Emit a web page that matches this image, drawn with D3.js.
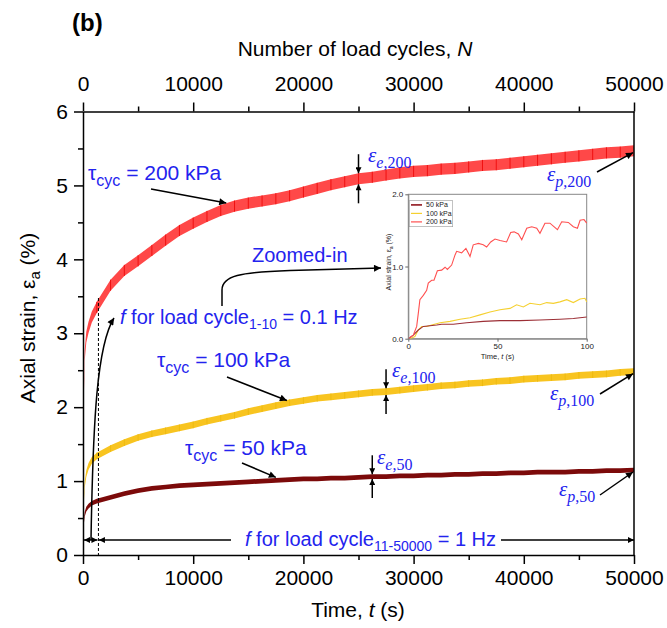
<!DOCTYPE html>
<html>
<head>
<meta charset="utf-8">
<script src="https://d3js.org/d3.v7.min.js"></script>
<style>
  body { margin: 0; background: #ffffff; }
  svg { display: block; font-family: 'Liberation Sans', Arial, sans-serif; }
</style>
</head>
<body>
<div id="chart"></div>
<script>
// time samples (s) shared by the three long-term curves
var time = [0, 25, 75, 150, 300, 500, 800, 1250, 2500, 3750, 5000, 6250, 7500, 8750,
  10000, 11250, 12500, 13750, 15000, 16250, 17500, 18750, 20000, 21250, 22500, 23750,
  25000, 26250, 27500, 28750, 30000, 31250, 32500, 33750, 35000, 36250, 37500, 38750,
  40000, 41250, 42500, 43750, 45000, 46250, 47500, 48750, 50000];

// mean axial strain (%) for each cyclic stress
var strain200 = [0, 1.2, 2.2, 2.7, 2.95, 3.08, 3.22, 3.35, 3.65, 3.85, 3.98, 4.12, 4.26, 4.39,
  4.49, 4.58, 4.66, 4.72, 4.76, 4.79, 4.82, 4.86, 4.91, 4.96, 5.01, 5.05,
  5.09, 5.11, 5.14, 5.17, 5.19, 5.20, 5.22, 5.23, 5.25, 5.27, 5.28, 5.30,
  5.32, 5.34, 5.36, 5.38, 5.40, 5.42, 5.44, 5.45, 5.47];
var strain100 = [0, 0.4, 0.75, 0.95, 1.1, 1.2, 1.28, 1.34, 1.44, 1.52, 1.59, 1.64, 1.68, 1.72,
  1.76, 1.81, 1.85, 1.89, 1.94, 1.98, 2.02, 2.06, 2.09, 2.12, 2.14, 2.16,
  2.18, 2.20, 2.21, 2.23, 2.25, 2.27, 2.29, 2.30, 2.32, 2.33, 2.35, 2.36,
  2.38, 2.39, 2.40, 2.41, 2.43, 2.44, 2.45, 2.47, 2.48];
var strain50 = [0, 0.3, 0.45, 0.55, 0.62, 0.66, 0.7, 0.73, 0.78, 0.83, 0.87, 0.9, 0.92, 0.94,
  0.95, 0.96, 0.97, 0.98, 0.99, 1.0, 1.01, 1.02, 1.03, 1.03, 1.04, 1.04,
  1.05, 1.06, 1.06, 1.07, 1.07, 1.08, 1.08, 1.09, 1.09, 1.10, 1.10, 1.11,
  1.11, 1.12, 1.12, 1.12, 1.13, 1.13, 1.14, 1.14, 1.15];

// half of the elastic (cyclic) strain band, %
var elastic200 = 0.075;
var elastic100 = 0.045;
var elastic50 = 0.032;

var xTicks = [0, 10000, 20000, 30000, 40000, 50000];
var xMinor = [5000, 15000, 25000, 35000, 45000];
var yTicks = [0, 1, 2, 3, 4, 5, 6];
var yMinor = [0.5, 1.5, 2.5, 3.5, 4.5, 5.5];

// zoomed-in first 100 s
var insetT200 = [0, 2.8, 4.7, 5.6, 6.5, 8.4, 10.3, 11.2, 13.1, 14.4, 16.3, 18.7, 20.6, 21.9, 24.3,
  26.2, 27.1, 29.9, 32.3, 34.6, 36.4, 39.3, 42, 43.9, 46.2, 48.6, 51.4, 55.1, 57.4, 59.3,
  61.7, 63.6, 66.4, 69.2, 72, 73.8, 76.6, 79.4, 81.3, 83.6, 86, 89.7, 92.5, 94.8, 96.3, 98.5, 100];
var insetS200 = [0, 0.05, 0.17, 0.35, 0.54, 0.6, 0.67, 0.77, 0.81, 0.81, 0.94, 0.95, 0.99, 0.96, 1.02,
  1.16, 1.21, 1.19, 1.25, 1.14, 1.30, 1.32, 1.30, 1.27, 1.34, 1.38, 1.36, 1.34, 1.47, 1.48,
  1.45, 1.37, 1.53, 1.55, 1.53, 1.46, 1.60, 1.60, 1.56, 1.51, 1.62, 1.61, 1.55, 1.53, 1.64, 1.65, 1.60];
var insetT100 = [1, 3.7, 5.6, 7.5, 10.3, 13.1, 17.8, 23.4, 29, 34.6, 40.2, 45.8, 51.4, 57, 60.7,
  64.5, 68.2, 73.8, 77.6, 81.3, 85, 88.8, 92.5, 96.3, 99, 100];
var insetS100 = [0, 0.03, 0.12, 0.17, 0.17, 0.19, 0.22, 0.24, 0.27, 0.29, 0.33, 0.37, 0.40, 0.42, 0.47,
  0.44, 0.49, 0.47, 0.50, 0.49, 0.51, 0.54, 0.50, 0.55, 0.56, 0.51];
var insetT50 = [0, 2.8, 5.6, 8.4, 12.1, 15.9, 18.7, 25.2, 32.7, 42, 51.4, 62.6, 73.8, 85, 92.5, 100];
var insetS50 = [0, 0.05, 0.12, 0.17, 0.18, 0.19, 0.2, 0.2, 0.22, 0.24, 0.25, 0.25, 0.26, 0.27, 0.28, 0.3];
var insetLegend = ['50 kPa', '100 kPa', '200 kPa'];

var blue = '#2323ee';
var svg = d3.select('#chart').append('svg').attr('width', 667).attr('height', 628);

var x = d3.scaleLinear().domain([0, 50000]).range([83, 634]);
var y = d3.scaleLinear().domain([0, 6]).range([555, 111.5]);

var defs = svg.append('defs');
defs.append('marker').attr('id', 'ah').attr('viewBox', '0 0 10 10')
  .attr('refX', 10).attr('refY', 5).attr('markerWidth', 9).attr('markerHeight', 7)
  .attr('markerUnits', 'userSpaceOnUse').attr('orient', 'auto-start-reverse')
  .append('path').attr('d', 'M0,0 L10,5 L0,10 z').attr('fill', '#000');
defs.append('marker').attr('id', 'ahs').attr('viewBox', '0 0 10 10')
  .attr('refX', 10).attr('refY', 5).attr('markerWidth', 7).attr('markerHeight', 6)
  .attr('markerUnits', 'userSpaceOnUse').attr('orient', 'auto-start-reverse')
  .append('path').attr('d', 'M0,0 L10,5 L0,10 z').attr('fill', '#000');

// text with sub-scripts
function richText(g, px, py, parts, o) {
  var t = g.append('text').attr('x', px).attr('y', py).attr('fill', o.color || '#000')
    .style('font-size', o.size + 'px');
  if (o.family) t.style('font-family', o.family);
  if (o.anchor) t.attr('text-anchor', o.anchor);
  var shift = 0;
  parts.forEach(function (p) {
    var target = p.sub ? o.subShift : 0;
    var sp = t.append('tspan').text(p.t).attr('dy', target - shift);
    shift = target;
    if (p.sub) sp.style('font-size', o.subSize + 'px');
    if (p.it) sp.style('font-style', 'italic');
  });
  return t;
}

function arrow(g, x1, y1, x2, y2, small, both) {
  var l = g.append('line').attr('x1', x1).attr('y1', y1).attr('x2', x2).attr('y2', y2)
    .attr('stroke', '#000').attr('stroke-width', 1.5)
    .attr('marker-end', small ? 'url(#ahs)' : 'url(#ah)');
  if (both) l.attr('marker-start', small ? 'url(#ahs)' : 'url(#ah)');
  return l;
}

// ---- bands
function band(values, half, fill, tick, tickFrom) {
  var data = time.map(function (t, i) { return { t: t, v: values[i] }; });
  var area = d3.area().x(function (d) { return x(d.t); })
    .y0(function (d) { return y(Math.max(0, d.v - half)); })
    .y1(function (d) { return y(d.v + half); });
  svg.append('path').datum(data).attr('d', area).attr('fill', fill);
  svg.append('g').selectAll('line').data(data.filter(function (d) { return d.t >= tickFrom && d.t < 50000; }))
    .enter().append('line')
    .attr('x1', function (d) { return x(d.t); }).attr('x2', function (d) { return x(d.t); })
    .attr('y1', function (d) { return y(d.v - half); }).attr('y2', function (d) { return y(d.v + half); })
    .attr('stroke', tick).attr('stroke-width', 1);
}
band(strain200, elastic200, '#ff4848', '#f01010', 1250);
band(strain100, elastic100, '#f8c420', '#eebb10', 1250);
band(strain50, elastic50, '#7c0a0a', '#6a0000', 99999);

// ---- axes
function styleAxis(g) {
  g.selectAll('path').attr('stroke', '#000').attr('stroke-width', 1.5);
  g.selectAll('line').attr('stroke', '#000').attr('stroke-width', 1.5);
  g.selectAll('text').style('font-size', '21px').style('font-family', "'Liberation Sans', Arial, sans-serif").attr('fill', '#000');
}
var fmt = d3.format('d');
var gb = svg.append('g').attr('transform', 'translate(0,555)')
  .call(d3.axisBottom(x).tickValues(xTicks).tickSize(9).tickSizeOuter(0).tickPadding(6).tickFormat(fmt));
styleAxis(gb);
var gbm = svg.append('g').attr('transform', 'translate(0,555)')
  .call(d3.axisBottom(x).tickValues(xMinor).tickSize(5).tickFormat(''));
styleAxis(gbm); gbm.select('.domain').remove();

var gt = svg.append('g').attr('transform', 'translate(0,111.5)')
  .call(d3.axisTop(x).tickValues(xTicks).tickSize(9).tickSizeOuter(0).tickPadding(12).tickFormat(fmt));
styleAxis(gt);
var gtm = svg.append('g').attr('transform', 'translate(0,111.5)')
  .call(d3.axisTop(x).tickValues(xMinor).tickSize(5).tickFormat(''));
styleAxis(gtm); gtm.select('.domain').remove();

var gl = svg.append('g').attr('transform', 'translate(83,0)')
  .call(d3.axisLeft(y).tickValues(yTicks).tickSize(9).tickSizeOuter(0).tickPadding(6).tickFormat(fmt));
styleAxis(gl);
var glm = svg.append('g').attr('transform', 'translate(83,0)')
  .call(d3.axisLeft(y).tickValues(yMinor).tickSize(5).tickFormat(''));
styleAxis(glm); glm.select('.domain').remove();

svg.append('line').attr('x1', 634).attr('x2', 634).attr('y1', 111.5).attr('y2', 555)
  .attr('stroke', '#000').attr('stroke-width', 1.5);

// titles
svg.append('text').attr('x', 72).attr('y', 31).text('(b)')
  .style('font-size', '24px').style('font-weight', 'bold');
richText(svg, 355, 56, [{ t: 'Number of load cycles, ' }, { t: 'N', it: true }], { size: 21, anchor: 'middle' });
richText(svg, 358, 617, [{ t: 'Time, ' }, { t: 't', it: true }, { t: ' (s)' }], { size: 21, anchor: 'middle' });
var ylab = richText(svg, 0, 0, [{ t: 'Axial strain, ε' }, { t: 'a', sub: true }, { t: ' (%)' }],
  { size: 21, subSize: 15, subShift: 5, anchor: 'middle' });
ylab.attr('transform', 'translate(35,318) rotate(-90)');

// ---- annotations
var ann = svg.append('g');
var tauOpts = { size: 21, subSize: 16, subShift: 6, color: blue };
richText(ann, 88, 180, [{ t: 'τ' }, { t: 'cyc', sub: true }, { t: ' = 200 kPa' }], tauOpts);
arrow(ann, 151, 189, x(13000), y(4.68) - 6);
richText(ann, 157, 367, [{ t: 'τ' }, { t: 'cyc', sub: true }, { t: ' = 100 kPa' }], tauOpts);
arrow(ann, 227, 377, x(18500), y(2.05) - 3);
richText(ann, 185, 455, [{ t: 'τ' }, { t: 'cyc', sub: true }, { t: ' = 50 kPa' }], tauOpts);
arrow(ann, 242, 463, x(17500), y(1.01) - 3);

var fOpts = { size: 20, subSize: 14, subShift: 5, color: blue };
richText(ann, 120, 324, [{ t: 'f', it: true }, { t: ' for load cycle' }, { t: '1-10', sub: true }, { t: ' = 0.1 Hz' }], fOpts);
richText(ann, 245, 546, [{ t: 'f', it: true }, { t: ' for load cycle' }, { t: '11-50000', sub: true }, { t: ' = 1 Hz' }], fOpts);
richText(ann, 252, 262, [{ t: 'Zoomed-in' }], { size: 20, color: blue });

// zoomed-in curved arrow
ann.append('path').attr('d', 'M222,306 L222,290 C222,276 240,272 290,270.5 L381,268')
  .attr('fill', 'none').attr('stroke', '#000').attr('stroke-width', 1.5).attr('marker-end', 'url(#ah)');
// first-10-cycles arrow
ann.append('path').attr('d', 'M91,540 C93,420 97,345 114,318')
  .attr('fill', 'none').attr('stroke', '#000').attr('stroke-width', 1.5).attr('marker-end', 'url(#ah)');
// dashed boundary at end of cycle 10
ann.append('line').attr('x1', x(1400)).attr('x2', x(1400)).attr('y1', 298).attr('y2', 555)
  .attr('stroke', '#000').attr('stroke-width', 1).attr('stroke-dasharray', '3,2');
arrow(ann, x(0) + 1, 540, x(1400) - 1, 540, true, true);
arrow(ann, 231, 540, x(1400) + 0.5, 540, true);
arrow(ann, 501, 540, x(50000), 540, true);

// elastic strain markers
var epsOpts = { size: 21, subSize: 16, subShift: 6, color: blue, family: "'Liberation Serif', 'DejaVu Serif', serif" };
function elasticMark(vals, half, idx, lx, ly, sub) {
  var px = x(time[idx]), top = y(vals[idx] + half), bot = y(vals[idx] - half);
  arrow(ann, px, top - 19, px, top, true);
  arrow(ann, px, bot + 19, px, bot, true);
  richText(ann, lx, ly, [{ t: 'ε', it: true }, { t: 'e', sub: true, it: true }, { t: ',' + sub, sub: true }], epsOpts);
}
elasticMark(strain200, elastic200, 26, 368, 162, '200');
elasticMark(strain100, elastic100, 28, 392, 377, '100');
elasticMark(strain50, elastic50, 27, 377, 464, '50');

function plasticMark(vals, lx, ly, sub, ax, ay) {
  richText(ann, lx, ly, [{ t: 'ε', it: true }, { t: 'p', sub: true, it: true }, { t: ',' + sub, sub: true }], epsOpts);
  arrow(ann, ax, ay, x(50000) - 1, y(vals[vals.length - 1]) + 2);
}
plasticMark(strain200, 547, 181, '200', 597, 172);
plasticMark(strain100, 550, 400, '100', 600, 394);
plasticMark(strain50, 559, 496, '50', 600, 495);

// ---- inset
var xi = d3.scaleLinear().domain([0, 100]).range([408.3, 586.7]);
var yi = d3.scaleLinear().domain([0, 2]).range([338.7, 194.3]);
var ins = svg.append('g');
ins.append('rect').attr('x', 408.3).attr('y', 194.3).attr('width', 178.4).attr('height', 144.4)
  .attr('fill', '#fff').attr('stroke', '#888').attr('stroke-width', 1);
function insetLine(ts, vs, color) {
  var line = d3.line().x(function (d) { return xi(d[0]); }).y(function (d) { return yi(d[1]); });
  ins.append('path').datum(ts.map(function (t, i) { return [t, vs[i]]; }))
    .attr('d', line).attr('fill', 'none').attr('stroke', color).attr('stroke-width', 1.1);
}
insetLine(insetT100, insetS100, '#f5d030');
insetLine(insetT50, insetS50, '#9c2f36');
insetLine(insetT200, insetS200, '#ff5050');

var gix = ins.append('g').attr('transform', 'translate(0,338.7)')
  .call(d3.axisBottom(xi).tickValues([0, 50, 100]).tickSize(3).tickSizeOuter(0).tickPadding(2));
var giy = ins.append('g').attr('transform', 'translate(408.3,0)')
  .call(d3.axisLeft(yi).tickValues([0, 1, 2]).tickSize(3).tickSizeOuter(0).tickPadding(2));
[gix, giy].forEach(function (g) {
  g.select('.domain').attr('stroke', '#888');
  g.selectAll('line').attr('stroke', '#666');
  g.selectAll('text').style('font-size', '8px').attr('fill', '#222');
});
richText(ins, 497.5, 359, [{ t: 'Time, ' }, { t: 't', it: true }, { t: ' (s)' }], { size: 7.5, anchor: 'middle', color: '#222' });
var iyl = richText(ins, 0, 0, [{ t: 'Axial strain, ε' }, { t: 'a', sub: true }, { t: ' (%)' }],
  { size: 7, subSize: 5, subShift: 1.5, anchor: 'middle', color: '#222' });
iyl.attr('transform', 'translate(391,262) rotate(-90)');

var lg = ins.append('g');
lg.append('rect').attr('x', 409.5).attr('y', 200.7).attr('width', 43.2).attr('height', 26)
  .attr('fill', '#fff').attr('stroke', '#999').attr('stroke-width', 0.6);
var legColors = ['#9c2f36', '#f5d030', '#ff5050'];
insetLegend.forEach(function (name, i) {
  var ly = 204.9 + i * 8.5;
  lg.append('line').attr('x1', 411).attr('x2', 422).attr('y1', ly).attr('y2', ly)
    .attr('stroke', legColors[i]).attr('stroke-width', i === 0 ? 1.8 : 1.2);
  lg.append('text').attr('x', 426).attr('y', ly + 2.5).text(name).style('font-size', '7px').attr('fill', '#222');
});
</script>
</body>
</html>
